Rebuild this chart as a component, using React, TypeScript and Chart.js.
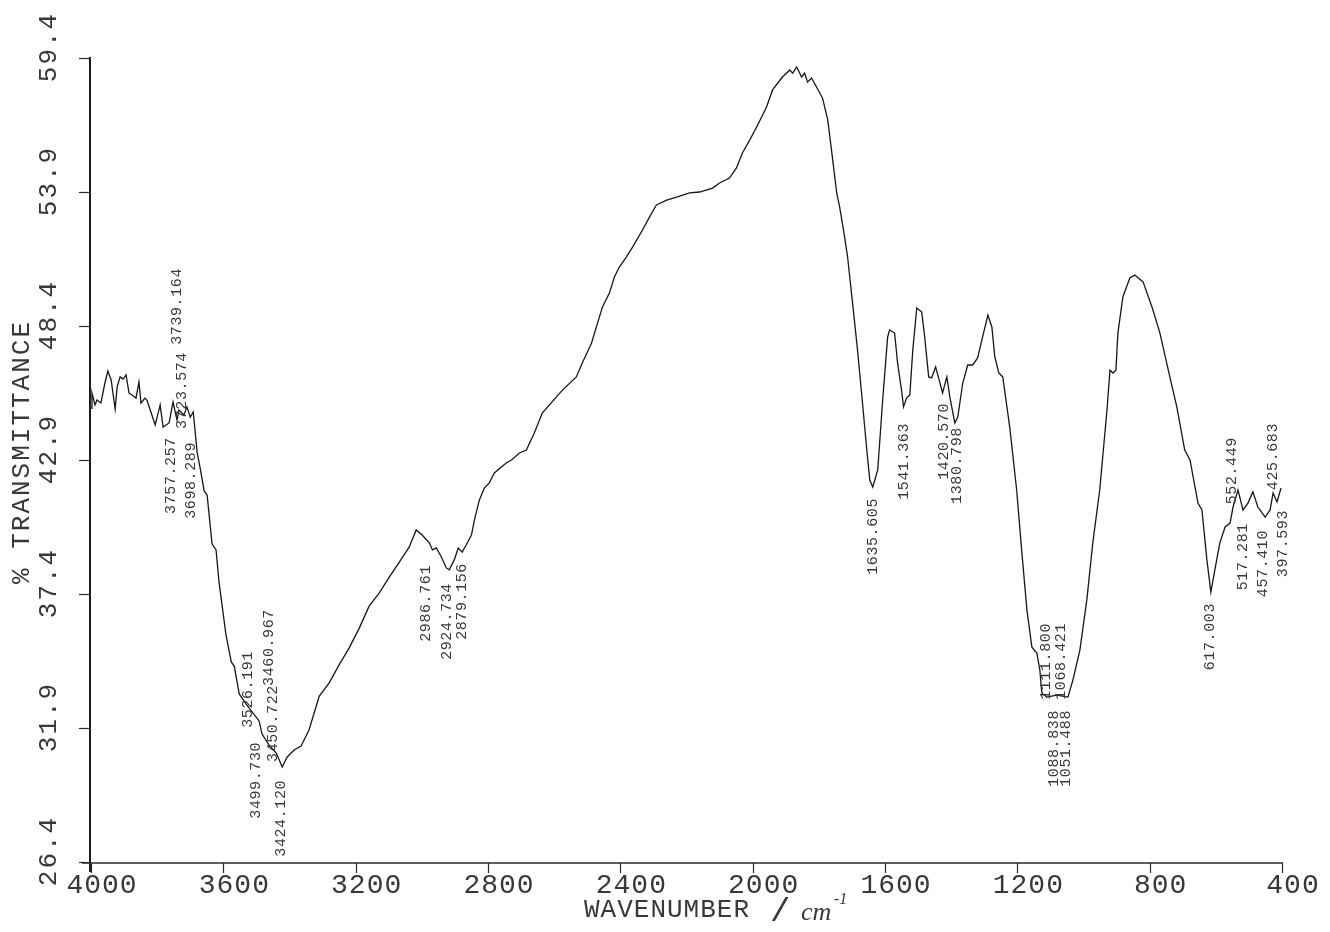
import React, { useEffect, useRef } from "react";
import { Chart, registerables } from "chart.js";

Chart.register(...registerables);

// Spectrum: wavenumber (cm-1) and % transmittance
const wavenumbers = [
  4000, 3997, 3988, 3982, 3970, 3958, 3949, 3939, 3927, 3921, 3912, 3903, 3894, 3885, 3876, 3864,
  3855, 3849, 3837, 3831, 3818, 3806, 3791, 3782, 3764, 3752, 3740, 3734, 3719, 3710, 3700, 3691,
  3679, 3670, 3658, 3649, 3634, 3622, 3613, 3592, 3576, 3567, 3552, 3531, 3492, 3483, 3462, 3440,
  3422, 3407, 3386, 3365, 3341, 3310, 3280, 3250, 3220, 3189, 3159, 3129, 3098, 3068, 3038, 3017,
  2999, 2977, 2968, 2956, 2941, 2926, 2917, 2902, 2890, 2878, 2866, 2850, 2841, 2826, 2811, 2796,
  2781, 2745, 2729, 2705, 2684, 2660, 2636, 2593, 2575, 2533, 2515, 2487, 2469, 2454, 2433, 2418,
  2403, 2382, 2363, 2333, 2312, 2291, 2260, 2230, 2191, 2161, 2121, 2100, 2070, 2049, 2031, 2009,
  1988, 1958, 1940, 1910, 1888, 1879, 1867, 1852, 1843, 1834, 1822, 1807, 1789, 1773, 1758, 1746,
  1737, 1722, 1713, 1698, 1683, 1668, 1655, 1646, 1637, 1622, 1607, 1592, 1586, 1571, 1562, 1550,
  1544, 1535, 1525, 1516, 1504, 1489, 1480, 1468, 1459, 1447, 1438, 1426, 1413, 1404, 1389, 1380,
  1365, 1350, 1335, 1320, 1305, 1289, 1277, 1268, 1256, 1244, 1223, 1202, 1187, 1171, 1156, 1141,
  1132, 1126, 1111, 1081, 1047, 1032, 1011, 990, 972, 951, 929, 920, 911, 902, 896, 881,
  860, 845, 820, 793, 769, 739, 718, 694, 678, 654, 642, 627, 615, 603, 588, 572,
  557, 548, 533, 518, 503, 488, 473, 451, 436, 427, 415, 403,
];

const transmittance = [
  45.03, 45.65, 45.16, 45.36, 45.24, 46.06, 46.55, 46.18, 44.99, 45.9, 46.31, 46.22, 46.39, 45.65, 45.57, 45.44,
  46.1, 45.24, 45.44, 45.36, 44.83, 44.34, 45.16, 44.25, 44.42, 45.28, 44.54, 44.95, 44.75, 45.08, 44.66, 44.87,
  43.19, 42.57, 41.63, 41.46, 39.45, 39.21, 37.89, 35.72, 34.61, 34.44, 33.3, 32.88, 32.19, 31.65, 31.2, 30.87,
  30.3, 30.71, 31.0, 31.16, 31.82, 33.21, 33.75, 34.49, 35.18, 36.0, 36.91, 37.44, 38.1, 38.71, 39.33, 40.03,
  39.82, 39.49, 39.21, 39.29, 38.92, 38.47, 38.39, 38.8, 39.29, 39.12, 39.41, 39.82, 40.44, 41.26, 41.75, 41.96,
  42.37, 42.78, 42.9, 43.19, 43.31, 44.01, 44.83, 45.49, 45.77, 46.31, 46.88, 47.7, 48.52, 49.18, 49.75, 50.41,
  50.82, 51.23, 51.64, 52.34, 52.87, 53.37, 53.57, 53.69, 53.86, 53.9, 54.06, 54.27, 54.47, 54.89, 55.5, 56.03,
  56.57, 57.39, 58.09, 58.62, 58.91, 58.78, 59.03, 58.62, 58.78, 58.41, 58.58, 58.21, 57.76, 56.86, 55.21, 53.86,
  53.28, 52.05, 51.23, 49.34, 47.41, 45.24, 43.31, 42.08, 41.79, 42.49, 45.36, 47.95, 48.24, 48.11, 46.88, 45.77,
  45.08, 45.44, 45.57, 47.41, 49.14, 48.97, 47.95, 46.31, 46.27, 46.72, 46.27, 45.65, 46.31, 45.49, 44.42, 44.66,
  46.06, 46.8, 46.8, 47.09, 47.95, 48.85, 48.36, 47.13, 46.47, 46.31, 44.25, 41.67, 39.21, 36.74, 35.22, 34.98,
  34.28, 33.34, 33.17, 33.25, 33.17, 33.87, 35.1, 37.15, 39.49, 41.67, 44.95, 46.59, 46.47, 46.59, 48.11, 49.59,
  50.37, 50.49, 50.21, 49.18, 48.11, 46.31, 45.08, 43.31, 42.9, 41.13, 40.85, 38.8, 37.48, 38.39, 39.49, 40.15,
  40.31, 40.97, 41.67, 40.85, 41.13, 41.59, 40.97, 40.56, 40.85, 41.55, 41.18, 41.75,
];

const xTickValues = [4000, 3600, 3200, 2800, 2400, 2000, 1600, 1200, 800, 400];
const xTickLabels = ["4000", "3600", "3200", "2800", "2400", "2000", "1600", "1200", "800", "400"];
const yTickValues = [26.4, 31.9, 37.4, 42.9, 48.4, 53.9, 59.4];
const yTickLabels = ["26.4", "31.9", "37.4", "42.9", "48.4", "53.9", "59.4"];

// Peak annotations: position (cm-1), printed text, and transmittance level of the text's upper end
const peakWavenumbers = [
  3739.164, 3723.574, 3757.257, 3698.289, 3526.191, 3460.967, 3450.722, 3499.73, 3424.12,
  2986.761, 2924.734, 2879.156, 1635.605, 1541.363, 1420.57, 1380.798,
  1111.8, 1068.421, 1088.838, 1051.488, 617.003, 552.449, 517.281, 457.41, 425.683, 397.593,
];
const peakTexts = [
  "3739.164", "3723.574", "3757.257", "3698.289", "3526.191", "3460.967", "3450.722", "3499.730", "3424.120",
  "2986.761", "2924.734", "2879.156", "1635.605", "1541.363", "1420.570", "1380.798",
  "1111.800", "1068.421", "1088.838", "1051.488", "617.003", "552.449", "517.281", "457.410", "425.683", "397.593",
];
const peakTextTop = [
  50.78, 47.33, 43.84, 43.64, 35.06, 36.78, 33.66, 31.33, 29.77,
  38.59, 37.85, 38.67, 41.34, 44.42, 45.24, 44.25,
  36.21, 36.21, 32.64, 32.64, 37.03, 43.84, 40.31, 40.03, 44.42, 40.85,
];

const MONO = '"Liberation Mono", "DejaVu Sans Mono", monospace';
const INK = "#383838";

function drawText(
  ctx: CanvasRenderingContext2D,
  text: string,
  x: number,
  y: number,
  rot: number,
  font: string,
  align: CanvasTextAlign,
  spacing: number
) {
  ctx.save();
  ctx.translate(x, y);
  ctx.rotate(rot);
  ctx.font = font;
  ctx.textAlign = align;
  ctx.textBaseline = "middle";
  (ctx as any).letterSpacing = spacing + "px";
  ctx.fillStyle = INK;
  ctx.fillText(text, 0, 0);
  ctx.restore();
}

const plotterPlugin = {
  id: "plotter",
  afterDraw(chart: any) {
    const ctx: CanvasRenderingContext2D = chart.ctx;
    const xs = chart.scales.x;
    const ys = chart.scales.y;
    const a = chart.chartArea;
    ctx.save();
    ctx.strokeStyle = "#1c1c1c";
    ctx.lineCap = "butt";

    // y axis line
    ctx.lineWidth = 2;
    ctx.beginPath();
    ctx.moveTo(a.left - 1, a.top - 1);
    ctx.lineTo(a.left - 1, a.bottom + 10);
    ctx.stroke();

    // x axis line
    ctx.strokeStyle = "#2a2a2a";
    ctx.lineWidth = 1.5;
    ctx.beginPath();
    ctx.moveTo(a.left - 9, a.bottom + 1);
    ctx.lineTo(xs.getPixelForValue(400) + 1, a.bottom + 1);
    ctx.stroke();

    // y ticks
    ctx.lineWidth = 1.2;
    yTickValues.forEach((v) => {
      const y = Math.round(ys.getPixelForValue(v)) + 0.5;
      ctx.beginPath();
      ctx.moveTo(a.left - 12, y);
      ctx.lineTo(a.left - 1, y);
      ctx.stroke();
    });
    // x ticks
    xTickValues.forEach((v) => {
      const x = Math.round(xs.getPixelForValue(v)) + 0.5;
      ctx.beginPath();
      ctx.moveTo(x, a.bottom + 1);
      ctx.lineTo(x, a.bottom + 11);
      ctx.stroke();
    });

    // y tick labels (rotated)
    yTickValues.forEach((v, i) => {
      const y = ys.getPixelForValue(v);
      drawText(ctx, yTickLabels[i], 49, y - 11, -Math.PI / 2, `26px ${MONO}`, "center", 2);
    });
    // x tick labels
    xTickValues.forEach((v, i) => {
      const x = xs.getPixelForValue(v);
      drawText(ctx, xTickLabels[i], x + 11, a.bottom + 24, 0, `28px ${MONO}`, "center", 1);
    });

    // axis titles
    drawText(ctx, "% TRANSMITTANCE", 22, 452, -Math.PI / 2, `26px ${MONO}`, "center", 2);
    drawText(ctx, "WAVENUMBER", 584, 910, 0, `26px ${MONO}`, "left", 1);
    drawText(ctx, "/", 770, 912, 0, `34px ${MONO}`, "left", 0);
    drawText(ctx, "cm", 801, 913, 0, `italic 26px "Liberation Serif", serif`, "left", 0);
    drawText(ctx, "-1", 834, 900, 0, `italic 16px "Liberation Serif", serif`, "left", 0);

    // peak labels
    peakWavenumbers.forEach((wn, i) => {
      const x = xs.getPixelForValue(wn);
      const y = ys.getPixelForValue(peakTextTop[i]);
      drawText(ctx, peakTexts[i], x, y, -Math.PI / 2, `15px ${MONO}`, "right", 0.6);
    });

    ctx.restore();
  },
};

export default function App() {
  const canvasRef = useRef<HTMLCanvasElement | null>(null);

  useEffect(() => {
    const canvas = canvasRef.current;
    if (!canvas) return;
    const points = wavenumbers.map((w, i) => ({ x: w, y: transmittance[i] }));
    const chart = new Chart(canvas, {
      type: "line",
      data: {
        datasets: [
          {
            data: points,
            borderColor: "#161616",
            borderWidth: 1.3,
            pointRadius: 0,
            tension: 0,
            fill: false,
          },
        ],
      },
      options: {
        animation: false,
        responsive: false,
        devicePixelRatio: 1,
        layout: { padding: { left: 91, right: 48, top: 58, bottom: 70 } },
        plugins: {
          legend: { display: false },
          tooltip: { enabled: false },
          title: { display: false },
        },
        scales: {
          x: { type: "linear", reverse: true, min: 400, max: 4000, display: false },
          y: { type: "linear", min: 26.4, max: 59.4, display: false },
        },
      },
      plugins: [plotterPlugin],
    });
    return () => chart.destroy();
  }, []);

  return (
    <div style={{ position: "absolute", left: 0, top: 0, width: 1330, height: 932, background: "#fff" }}>
      <canvas ref={canvasRef} width={1330} height={932} style={{ width: 1330, height: 932 }} />
    </div>
  );
}
